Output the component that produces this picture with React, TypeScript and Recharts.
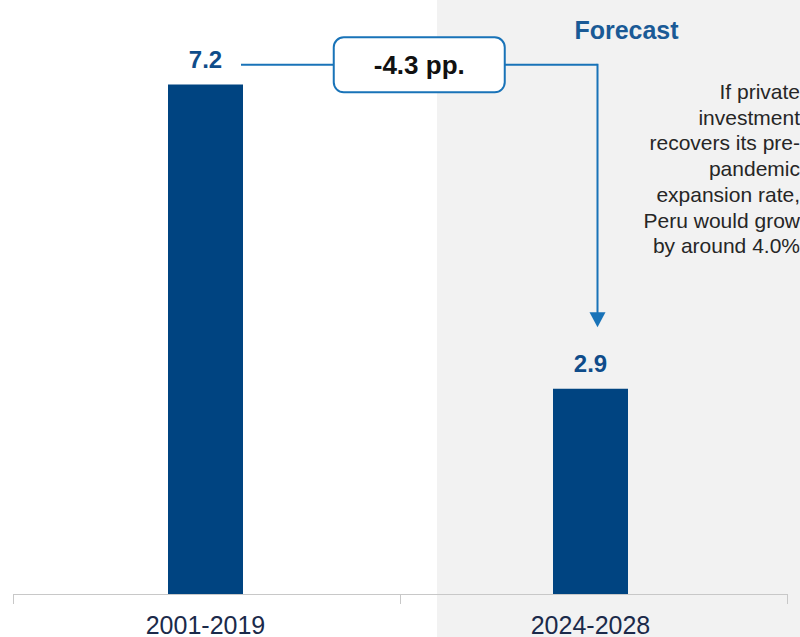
import React from 'react';
import { BarChart, Bar, XAxis, YAxis, LabelList, ReferenceLine, Customized } from 'recharts';

const categories = ['2001-2019', '2024-2028'];
const growthValues = [7.2, 2.9];
const gapLabel = '-4.3 pp.';
const connectorLevel = 7.48;
const arrowTipLevel = 3.77;
const forecastTitle = 'Forecast';
const noteLines = [
  'If private',
  'investment',
  'recovers its pre-',
  'pandemic',
  'expansion rate,',
  'Peru would grow',
  'by around 4.0%',
];

const data = categories.map((c, i) => ({ period: c, value: growthValues[i] }));

const W = 800;
const H = 637;
const MARGIN = { top: 28, right: 17, bottom: 0, left: 13 };
const AXIS_H = 43;
const FONT = '"Liberation Sans", Arial, Helvetica, sans-serif';
const BAR_COLOR = '#004481';
const LABEL_COLOR = '#0f4c8a';
const LINE_COLOR = '#1973B8';
const BAR_SIZE = 75;

const ConnectorShape = (p: any) => {
  const { x1, y1, x2 } = p;
  const startX = x1 + BAR_SIZE / 2 - 2;
  const endX = x2 + 7;
  const boxW = 171;
  const boxH = 55;
  const cx = (startX + endX) / 2;
  const bx = cx - boxW / 2;
  return (
    <g>
      <line x1={startX} y1={y1} x2={bx} y2={y1} stroke={LINE_COLOR} strokeWidth={2} />
      <line x1={bx + boxW} y1={y1} x2={endX} y2={y1} stroke={LINE_COLOR} strokeWidth={2} />
      <rect x={bx} y={y1 - boxH / 2} width={boxW} height={boxH} rx={10} ry={10} fill="#ffffff" stroke={LINE_COLOR} strokeWidth={2} />
      <text x={cx} y={y1 + 9.5} textAnchor="middle" fontFamily={FONT} fontSize={26} fontWeight="bold" fill="#111111">
        {gapLabel}
      </text>
    </g>
  );
};

const ArrowShape = (p: any) => {
  const { x1, y1, y2 } = p;
  const x = x1 + 7;
  const top = Math.min(y1, y2);
  const tip = Math.max(y1, y2);
  const headH = 15;
  const headW = 8;
  return (
    <g>
      <line x1={x} y1={top - 1} x2={x} y2={tip - headH + 1} stroke={LINE_COLOR} strokeWidth={2} />
      <path d={`M${x - headW},${tip - headH} L${x + headW},${tip - headH} L${x},${tip} Z`} fill={LINE_COLOR} />
    </g>
  );
};

const Decorations = () => {
  const axisY = H - MARGIN.bottom - AXIS_H;
  const left = 13;
  const right = 787;
  const mid = 400;
  return (
    <g>
      <line x1={left} y1={axisY + 0.5} x2={right} y2={axisY + 0.5} stroke="#c8c8c8" strokeWidth={1} />
      {[left, mid, right].map((x, i) => (
        <line key={i} x1={x + 0.5} y1={axisY} x2={x + 0.5} y2={axisY + 10} stroke="#c8c8c8" strokeWidth={1} />
      ))}
      <text x={626.5} y={39} textAnchor="middle" fontFamily={FONT} fontSize={25} fontWeight="bold" fill="#1a5a96">
        {forecastTitle}
      </text>
      {noteLines.map((t, i) => (
        <text key={i} x={800} y={99 + i * 25.7} textAnchor="end" fontFamily={FONT} fontSize={21} fill="#262626">
          {t}
        </text>
      ))}
    </g>
  );
};

const AxisTick = (p: any) => {
  const { x, y, payload } = p;
  return (
    <text x={x} y={y} dy={30} textAnchor="middle" fontFamily={FONT} fontSize={25} fill="#1b2a4a">
      {payload.value}
    </text>
  );
};

export default function App() {
  return (
    <div style={{ position: 'absolute', left: 0, top: 0, width: W, height: H, background: '#ffffff', overflow: 'hidden' }}>
      <div style={{ position: 'absolute', left: 437, top: 0, width: W - 437, height: H, background: '#f2f2f2' }} />
      <div style={{ position: 'absolute', left: 0, top: 0 }}>
        <BarChart width={W} height={H} data={data} margin={MARGIN} barCategoryGap={0}>
          <XAxis
            dataKey="period"
            height={AXIS_H}
            axisLine={false}
            tickLine={false}
            tickSize={10}
            tickMargin={0}
            tick={<AxisTick />}
            interval={0}
          />
          <YAxis hide domain={[0, 8]} />
          <Bar dataKey="value" fill={BAR_COLOR} barSize={BAR_SIZE} isAnimationActive={false}>
            <LabelList
              dataKey="value"
              position="top"
              offset={17}
              fill={LABEL_COLOR}
              fontSize={24}
              fontWeight="bold"
              fontFamily={FONT}
              formatter={(v: any) => Number(v).toFixed(1)}
            />
          </Bar>
          <ReferenceLine
            segment={[{ x: categories[0], y: connectorLevel }, { x: categories[1], y: connectorLevel }]}
            ifOverflow="visible"
            shape={(p: any) => <ConnectorShape {...p} />}
          />
          <ReferenceLine
            segment={[{ x: categories[1], y: connectorLevel }, { x: categories[1], y: arrowTipLevel }]}
            ifOverflow="visible"
            shape={(p: any) => <ArrowShape {...p} />}
          />
          <Customized component={Decorations} />
        </BarChart>
      </div>
    </div>
  );
}
